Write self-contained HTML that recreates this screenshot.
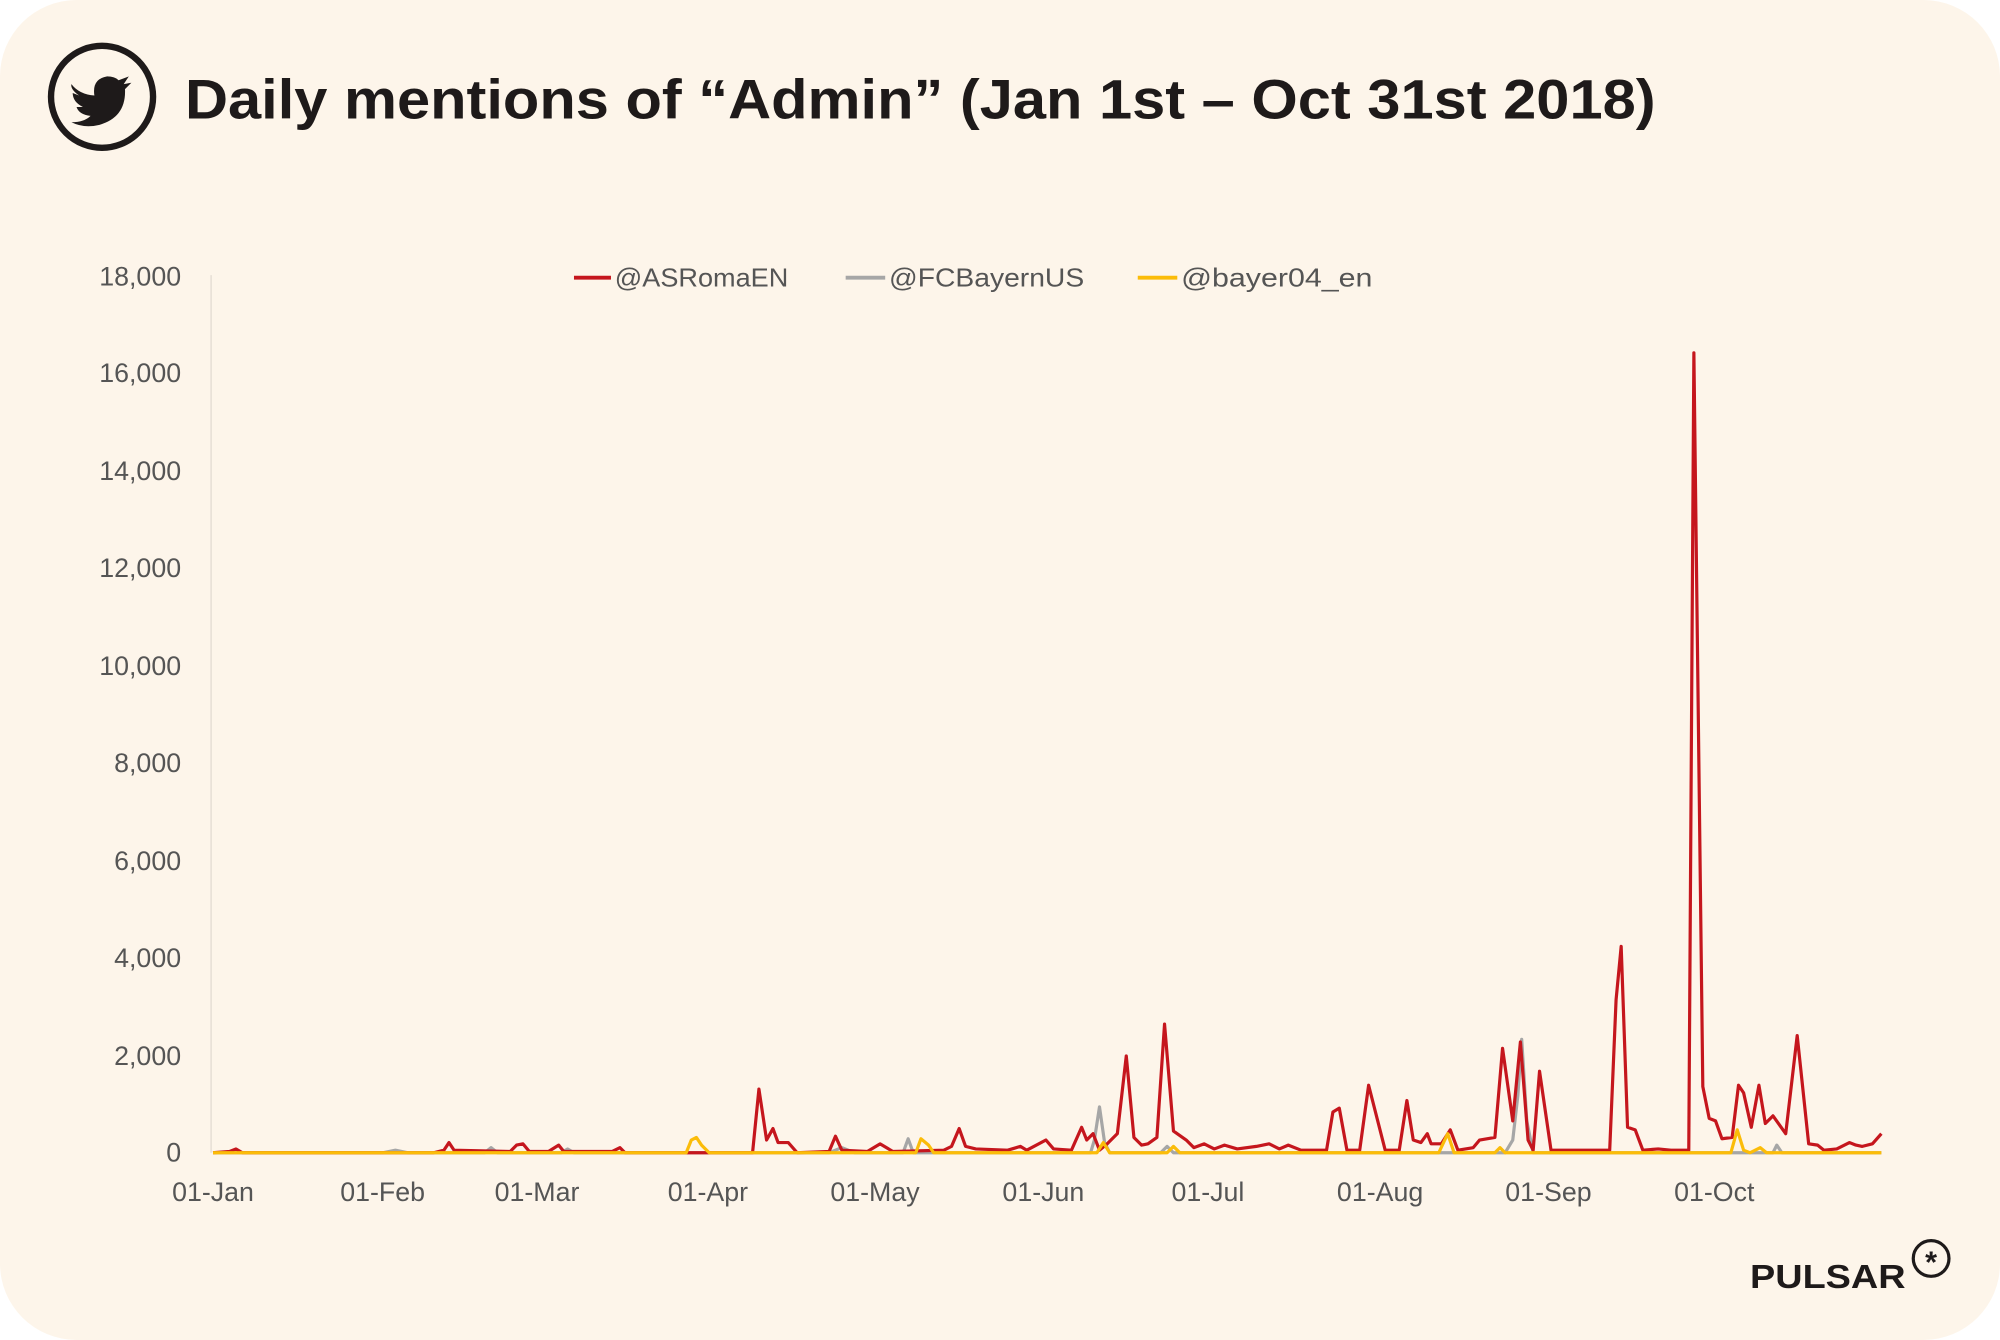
<!DOCTYPE html>
<html><head><meta charset="utf-8"><style>
html,body{margin:0;padding:0;background:#fff;}
svg{display:block;}
</style></head><body>
<svg width="2000" height="1340" viewBox="0 0 1568 1052" preserveAspectRatio="none" xmlns="http://www.w3.org/2000/svg" font-family="Liberation Sans, sans-serif">
<rect x="0" y="0" width="1568" height="1052" fill="#ffffff"/>
<rect x="0" y="0" width="1568" height="1052" rx="60" fill="#fdf5ea"/>
<circle cx="80" cy="76" r="40" fill="none" stroke="#1e1a1a" stroke-width="5"/>
<path d="M56 66 Q62 74 74 75 Q72 62 84 60 Q90 60 93 63 L101 60 L97 66 L103 65 L98 70 Q99 92 78 98 Q66 101 56 96 Q66 96 71 91 Q62 90 60 84 L65 84 Q57 80 57 73 L62 75 Q55 70 56 66 Z" fill="#1e1a1a"/>
<text x="145" y="93" font-size="44" font-weight="bold" fill="#1e1a1a" textLength="1153" lengthAdjust="spacingAndGlyphs">Daily mentions of “Admin” (Jan 1st – Oct 31st 2018)</text>
<line x1="165.5" y1="216" x2="165.5" y2="905" stroke="#e2dbd2" stroke-width="1"/>
<g font-size="21" fill="#555" text-anchor="end">
<text x="142" y="224">18,000</text><text x="142" y="300">16,000</text><text x="142" y="377">14,000</text><text x="142" y="453">12,000</text><text x="142" y="530">10,000</text><text x="142" y="606">8,000</text><text x="142" y="683">6,000</text><text x="142" y="759">4,000</text><text x="142" y="836">2,000</text><text x="142" y="912">0</text>
</g>
<g font-size="21" fill="#555" text-anchor="middle">
<text x="167" y="943">01-Jan</text><text x="300" y="943">01-Feb</text><text x="421" y="943">01-Mar</text><text x="555" y="943">01-Apr</text><text x="686" y="943">01-May</text><text x="818" y="943">01-Jun</text><text x="947" y="943">01-Jul</text><text x="1082" y="943">01-Aug</text><text x="1214" y="943">01-Sep</text><text x="1344" y="943">01-Oct</text>
</g>
<g font-size="20" fill="#555">
<line x1="450" y1="218" x2="479" y2="218" stroke="#c5161d" stroke-width="3"/><text x="482" y="225" textLength="136" lengthAdjust="spacingAndGlyphs">@ASRomaEN</text>
<line x1="663" y1="218" x2="694" y2="218" stroke="#a6a6a6" stroke-width="3"/><text x="697" y="225" textLength="153" lengthAdjust="spacingAndGlyphs">@FCBayernUS</text>
<line x1="892" y1="218" x2="923" y2="218" stroke="#fbbc09" stroke-width="3"/><text x="926" y="225" textLength="150" lengthAdjust="spacingAndGlyphs">@bayer04_en</text>
</g>
<polyline fill="none" stroke="#a6a6a6" stroke-width="2.5" stroke-linejoin="round" points="167,905 300,905 310,903 320,905 380,905 385,901 390,905 440,905 445,902 450,905 650,905 660,901 670,905 708,905 712,894 716,905 855,905 858,895 862,869 866,897 870,905 910,905 915,900 920,905 1180,905 1186,895 1190,860 1193,816 1197,880 1202,905 1390,905 1393,899 1397,905 1475,905"/>
<polyline fill="none" stroke="#c5161d" stroke-width="2.5" stroke-linejoin="round" points="167,905 180,904 185,902 190,905 340,905 348,903 352,897 356,903 400,904 405,899 410,898 415,904 430,904 438,899 442,904 480,904 486,901 490,905 590,905 595,855 601,895 606,886 610,897 618,897 625,905 650,904 655,892 660,903 680,904 690,898 700,904 740,903 746,900 752,886 757,900 765,902 790,903 800,900 805,903 820,895 826,902 840,903 848,885 852,895 857,890 862,903 868,898 876,890 883,829 889,893 895,899 900,898 907,893 913,804 920,888 930,895 936,901 944,898 952,902 960,899 970,902 985,900 995,898 1003,902 1010,899 1020,903 1040,903 1045,873 1050,870 1056,903 1066,903 1073,852 1086,903 1097,903 1103,864 1108,895 1114,897 1119,890 1122,898 1130,898 1137,887 1143,903 1155,901 1160,895 1172,893 1178,823 1186,880 1192,818 1198,895 1202,903 1207,841 1216,903 1262,903 1267,785 1271,743 1276,885 1282,887 1288,903 1300,902 1310,903 1324,903 1328,277 1335,853 1340,878 1345,880 1350,894 1358,893 1363,852 1367,858 1373,885 1379,852 1384,882 1390,876 1400,890 1409,813 1418,898 1425,899 1430,903 1440,902 1450,897 1455,899 1460,900 1468,898 1475,890"/>
<polyline fill="none" stroke="#fbbc09" stroke-width="2.5" stroke-linejoin="round" points="167,905 538,905 542,895 546,893 550,899 556,905 718,905 722,894 728,899 732,905 860,905 865,897 870,905 915,905 920,900 925,905 1128,905 1135,890 1140,905 1172,905 1176,901 1180,905 1357,905 1362,887 1367,903 1372,905 1380,901 1385,905 1475,905"/>
<text x="1372" y="1011" font-size="26" font-weight="bold" fill="#1e1a1a" textLength="122" lengthAdjust="spacingAndGlyphs">PULSAR</text>
<circle cx="1514" cy="988" r="14" fill="none" stroke="#1e1a1a" stroke-width="2.5"/>
<text x="1514" y="999" font-size="24" font-weight="bold" fill="#1e1a1a" text-anchor="middle">*</text>
</svg>
</body></html>
